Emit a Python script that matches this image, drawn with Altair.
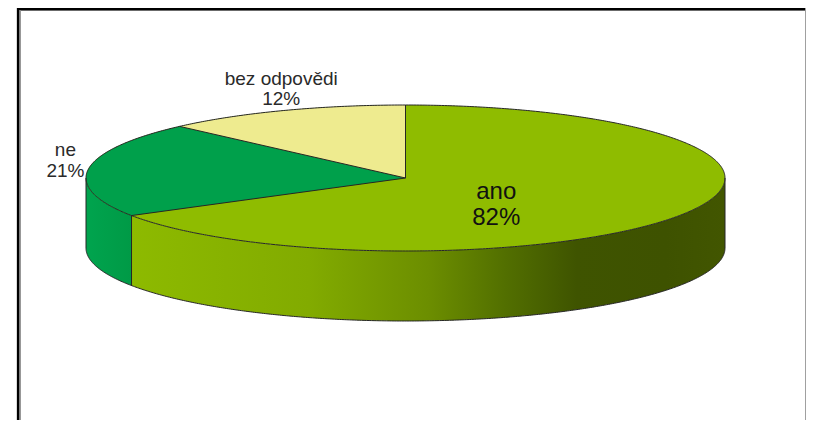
import numpy as np
import pandas as pd
import altair as alt

# ---- data ----
categories = ["ano", "ne", "bez odpovědi"]
shares = [66.4, 21.1, 12.5]          # visible slice sizes, % of the full circle
label_pct = ["82%", "21%", "12%"]    # percentages printed on the chart
top_colors = ["#8fbc00", "#00a04b", "#eeeb8f"]

# ---- layout (page pixels) ----
W, H = 798, 412
CX, CY, RX, RY, DEPTH = 405.5, 178.0, 319.5, 73.0, 70.0


def P(theta, k=1.0):
    t = np.radians(theta)
    return CX + k * RX * np.sin(t), CY - k * RY * np.cos(t)


# slice angles, clockwise from 12 o'clock
bounds = []
acc = 0.0
for s in shares:
    bounds.append((acc, acc + s * 3.6))
    acc += s * 3.6


def sector_band(a0, a1, n=240):
    th = np.linspace(a0, a1, n)
    poly = [(CX, CY)] + [P(t) for t in th]
    px = np.array([p[0] for p in poly])
    grid = np.unique(np.concatenate([np.linspace(px.min(), px.max(), 600), px]))
    rows = []
    m = len(poly)
    for x in grid:
        ys = []
        for i in range(m):
            x1, y1 = poly[i]
            x2, y2 = poly[(i + 1) % m]
            if min(x1, x2) - 1e-9 <= x <= max(x1, x2) + 1e-9:
                if abs(x2 - x1) < 1e-9:
                    ys += [y1, y2]
                else:
                    ys.append(y1 + (x - x1) * (y2 - y1) / (x2 - x1))
        if ys:
            rows.append((x, min(ys), max(ys)))
    return rows


# top surface: full ellipse in first colour, other sectors drawn over it
top_rows = []
phi = np.linspace(-90, 90, 500)
for p in phi:
    x = CX + RX * np.sin(np.radians(p))
    h = RY * np.cos(np.radians(p))
    top_rows.append({"cat": categories[0], "x": x, "y": CY - h, "y2": CY + h})
for c, (a0, a1) in zip(categories[1:], bounds[1:]):
    for x, ya, yb in sector_band(a0, a1):
        top_rows.append({"cat": c, "x": x, "y": ya, "y2": yb})
top_df = pd.DataFrame(top_rows)

# side walls (front half, 90..270 degrees)
wall_dfs = {}
for c, (a0, a1) in zip(categories, bounds):
    b0, b1 = max(a0, 90), min(a1, 270)
    if b1 > b0:
        th = np.linspace(b0, b1, 400)
        xs, ys = P(th)
        wall_dfs[c] = pd.DataFrame({"x": xs, "y": ys, "y2": ys + DEPTH})

# outlines
lines = []
def add_seg(name, xs, ys):
    for i, (x, y) in enumerate(zip(xs, ys)):
        lines.append({"seg": name, "i": i, "x": x, "y": y})

th = np.linspace(0, 360, 721)
add_seg("rim", *P(th))
th = np.linspace(90, 270, 400)
bx, by = P(th)
add_seg("base", bx, by + DEPTH)
for j, (a0, a1) in enumerate(bounds):
    ex, ey = P(a0)
    add_seg(f"rad{j}", [CX, ex], [CY, ey])
edges = [90, 270] + [a0 for a0, _ in bounds if 90 < a0 < 270]
for j, a in enumerate(edges):
    ex, ey = P(a)
    add_seg(f"edge{j}", [ex, ex], [ey, ey + DEPTH])
line_df = pd.DataFrame(lines)

# labels
lab_rows = []
for c, p, (a0, a1) in zip(categories, label_pct, bounds):
    mid = (a0 + a1) / 2
    k = 0.33 if c == categories[0] else 1.0
    lx, ly = P(mid, k)
    lab_rows.append({"cat": c, "text": f"{c}\n{p}", "x": lx, "y": ly})
lab_df = pd.DataFrame(lab_rows)

xs = alt.Scale(domain=[8, 8 + W], nice=False, zero=False)
ys = alt.Scale(domain=[8 + H, 8], nice=False, zero=False)
X = lambda: alt.X("x:Q", scale=xs, axis=None)
Y = lambda: alt.Y("y:Q", scale=ys, axis=None)

layers = []

wall_grad = {
    categories[0]: [("#8dba00", 0), ("#82ab00", 0.3), ("#6c8e00", 0.5),
                    ("#526f00", 0.63), ("#3f5400", 0.75), ("#3e5200", 0.9), ("#425600", 1)],
    categories[1]: [("#00a44e", 0), ("#009a46", 1)],
}
for c, df in wall_dfs.items():
    stops = [alt.GradientStop(color=col, offset=o) for col, o in wall_grad.get(c, [("#666", 0), ("#444", 1)])]
    layers.append(
        alt.Chart(df).mark_area(
            orient="vertical",
            color=alt.Gradient(gradient="linear", stops=stops, x1=0, x2=1, y1=0, y2=0),
        ).encode(x=X(), y=Y(), y2="y2:Q")
    )

layers.append(
    alt.Chart(top_df).mark_area(orient="vertical").encode(
        x=X(), y=Y(), y2="y2:Q",
        color=alt.Color("cat:N", scale=alt.Scale(domain=categories, range=top_colors), legend=None),
        detail="cat:N",
    )
)

layers.append(
    alt.Chart(line_df).mark_line(color="#262626", strokeWidth=1).encode(
        x=X(), y=Y(), detail="seg:N", order="i:Q"
    )
)

lab_styles = {
    categories[0]: dict(fontSize=24, lineHeight=26, dx=-1, dy=9, color="#111111"),
    categories[1]: dict(fontSize=19, lineHeight=21, dx=-23, dy=-13, color="#2a2a2a"),
    categories[2]: dict(fontSize=19, lineHeight=20, dx=-2, dy=-26, color="#2a2a2a"),
}
for c in categories:
    st = lab_styles[c]
    layers.append(
        alt.Chart(lab_df[lab_df.cat == c]).mark_text(
            font="Liberation Sans", align="center", baseline="alphabetic",
            lineBreak="\n", **st
        ).encode(x=X(), y=Y(), text="text:N")
    )

# frame
layers.append(alt.Chart(lab_df).mark_rule(color="#000000", strokeWidth=2.5).encode(
    x=alt.value(9), x2=alt.value(W), y=alt.value(1)))
layers.append(alt.Chart(lab_df).mark_rule(color="#000000", strokeWidth=2.5).encode(
    x=alt.value(10.2), y=alt.value(0), y2=alt.value(H)))
layers.append(alt.Chart(lab_df).mark_rule(color="#8a8a8a", strokeWidth=1).encode(
    x=alt.value(12), y=alt.value(2), y2=alt.value(H)))
layers.append(alt.Chart(lab_df).mark_rule(color="#a0a0a0", strokeWidth=1).encode(
    x=alt.value(W - 0.5), y=alt.value(0), y2=alt.value(H)))

chart = alt.layer(*layers).properties(
    width=W, height=H, padding=0, autosize=alt.AutoSizeParams(type="none"),
    background="white",
).configure_view(stroke=None)

chart.save("out.html", embed_options={"renderer": "svg", "actions": False})
